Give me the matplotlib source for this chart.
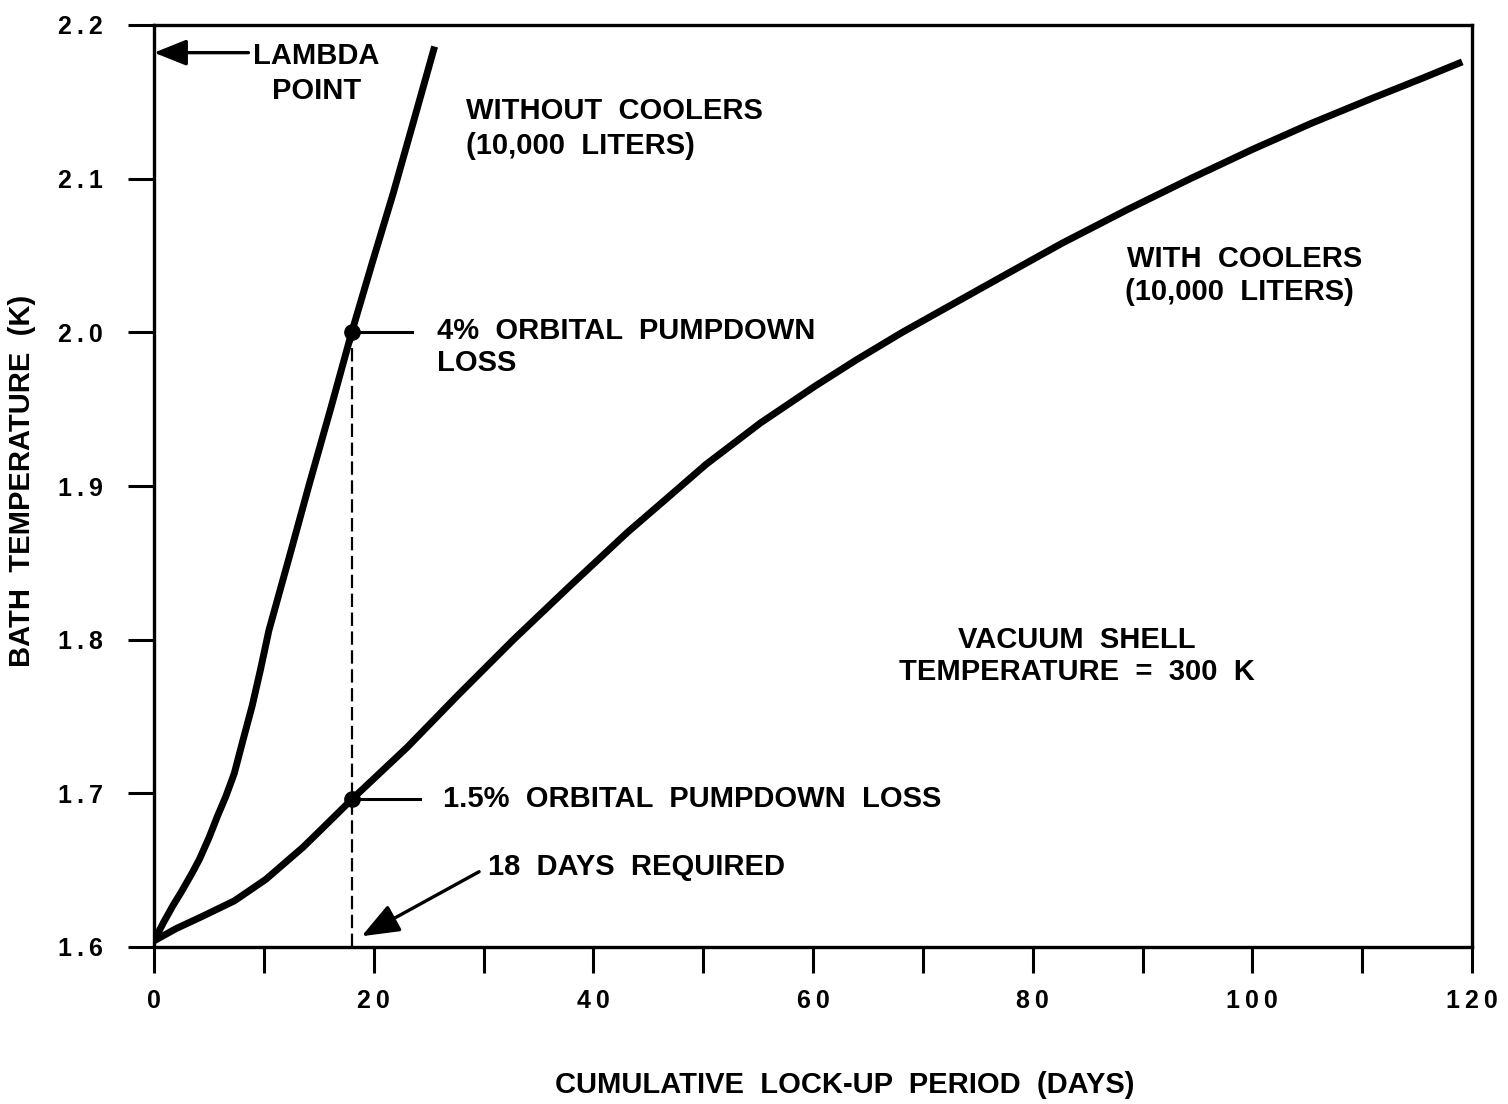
import matplotlib
matplotlib.use("Agg")
import matplotlib.pyplot as plt

plt.rcParams['font.family'] = ['Liberation Sans', 'DejaVu Sans']
plt.rcParams['font.weight'] = 'bold'

# bath temperature (K) against cumulative lock-up period (days)
days_no_coolers = [0, 0.87, 1.73, 2.5, 3.46, 4.13, 5.0, 5.77, 6.54, 7.31, 8.08, 8.94, 9.71,
                   10.46, 12.48, 14.13, 16.15, 18, 19.9, 21.76, 23.7, 25.55]
temp_no_coolers = [1.604, 1.616, 1.627, 1.636, 1.648, 1.657, 1.671, 1.685, 1.698, 1.713,
                   1.734, 1.757, 1.781, 1.806, 1.858, 1.901, 1.952, 2.0, 2.046, 2.090,
                   2.139, 2.186]

days_coolers = [0, 2.02, 4.42, 7.31, 10.18, 13.58, 15.87, 18, 23.06, 27.69, 32.73, 37.73,
                43.13, 46.7, 50.25, 55.21, 60.19, 63.93, 68.13, 72.38, 77.14, 82.68, 88.66,
                94.36, 100, 105.37, 110.8, 115.36, 119.11]
temp_coolers = [1.604, 1.612, 1.620, 1.630, 1.644, 1.665, 1.681, 1.696, 1.730, 1.764, 1.800,
                1.834, 1.870, 1.892, 1.914, 1.941, 1.965, 1.982, 2.0, 2.017, 2.036, 2.058,
                2.080, 2.100, 2.119, 2.136, 2.152, 2.165, 2.176]

# pumpdown loss points and the lambda point marker
lockup_days = 18
temp_4pct = 2.0
temp_15pct = 1.696
lambda_temp = 2.182

x_ticks = list(range(0, 121, 10))
x_labels = ['\u2009'.join(str(t)) if t % 20 == 0 else '' for t in x_ticks]
y_ticks = [1.6, 1.7, 1.8, 1.9, 2.0, 2.1, 2.2]
y_labels = ['\u2009'.join(f'{t:.1f}') for t in y_ticks]

fig = plt.figure(figsize=(15.08, 11.04), dpi=100)
ax = fig.add_axes([154 / 1508, 1 - 947 / 1104, 1318 / 1508, 922 / 1104])

for xs, ys in [(days_no_coolers, temp_no_coolers), (days_coolers, temp_coolers)]:
    ax.plot(xs, ys, color='black', lw=5, solid_capstyle='butt', solid_joinstyle='round')

# 18-day drop line and the two loss points
ax.plot([lockup_days, lockup_days], [1.6, temp_4pct], color='black', lw=1.6,
        linestyle=(0, (6, 2.5)))
ax.plot([lockup_days, lockup_days], [temp_4pct, temp_15pct], 'o', color='black', ms=11)
ax.plot([lockup_days, 23.5], [temp_4pct, temp_4pct], color='black', lw=2.2)
ax.plot([lockup_days, 24.2], [temp_15pct, temp_15pct], color='black', lw=2.2)

ax.set_xlim(0, 120)
ax.set_ylim(1.6, 2.2)
ax.set_xticks(x_ticks)
ax.set_xticklabels(x_labels)
ax.set_yticks(y_ticks)
ax.set_yticklabels(y_labels)
ax.tick_params(axis='both', direction='out', length=19, width=2.2, labelsize=18)
ax.tick_params(axis='x', pad=11)
ax.tick_params(axis='y', pad=18)
for sp in ax.spines.values():
    sp.set_linewidth(2.4)

ax.set_xlabel('CUMULATIVE  LOCK-UP  PERIOD  (DAYS)', fontsize=21, fontweight='bold',
              va='center', ha='center')
ax.xaxis.set_label_coords(0.5243, -0.1497)
ax.set_ylabel('BATH  TEMPERATURE  (K)', fontsize=21, fontweight='bold',
              va='center', ha='center')
ax.yaxis.set_label_coords(-0.1002, 0.5054)

fs = 21
ax.annotate('', xy=(0, lambda_temp), xytext=(8.6, lambda_temp),
            arrowprops=dict(arrowstyle='-|>,head_length=1.0,head_width=0.4',
                            lw=2.4, color='black', mutation_scale=20,
                            shrinkA=0, shrinkB=0), annotation_clip=False)
ax.text(9.0, 2.180, 'LAMBDA', fontsize=fs, ha='left', va='center')
ax.text(10.7, 2.157, 'POINT', fontsize=fs, ha='left', va='center')

ax.text(28.4, 2.144, 'WITHOUT  COOLERS', fontsize=fs, ha='left', va='center')
ax.text(28.4, 2.121, '(10,000  LITERS)', fontsize=fs, ha='left', va='center')

ax.text(88.6, 2.048, 'WITH  COOLERS', fontsize=fs, ha='left', va='center')
ax.text(88.4, 2.026, '(10,000  LITERS)', fontsize=fs, ha='left', va='center')

ax.text(25.8, 2.001, '4%  ORBITAL  PUMPDOWN', fontsize=fs, ha='left', va='center')
ax.text(25.8, 1.980, 'LOSS', fontsize=fs, ha='left', va='center')

ax.text(84.0, 1.800, 'VACUUM  SHELL', fontsize=fs, ha='center', va='center')
ax.text(84.0, 1.779, 'TEMPERATURE  =  300  K', fontsize=fs, ha='center', va='center')

ax.text(26.3, 1.696, '1.5%  ORBITAL  PUMPDOWN  LOSS', fontsize=fs, ha='left', va='center')

ax.text(30.4, 1.652, '18  DAYS  REQUIRED', fontsize=fs, ha='left', va='center')
ax.annotate('', xy=(18.9, 1.607), xytext=(29.6, 1.649),
            arrowprops=dict(arrowstyle='-|>,head_length=1.15,head_width=0.45',
                            lw=2.4, color='black', mutation_scale=20,
                            shrinkA=0, shrinkB=0))

fig.savefig('out.png', dpi=100, facecolor='white')
